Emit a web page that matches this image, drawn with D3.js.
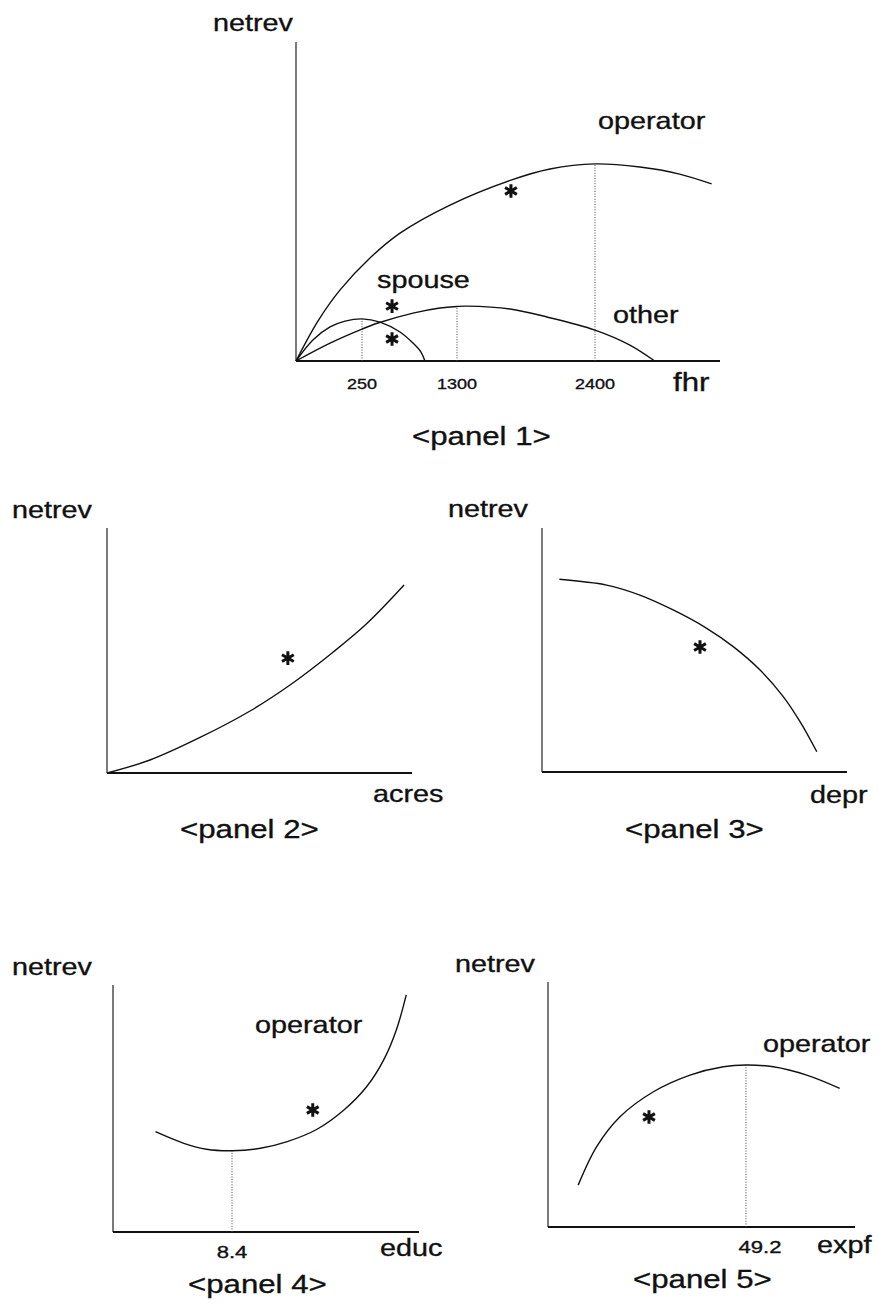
<!DOCTYPE html>
<html>
<head>
<meta charset="utf-8">
<script src="https://cdn.jsdelivr.net/npm/d3@7"></script>
<style>
  html, body { margin: 0; padding: 0; background: #fff; }
  svg { display: block; }
  text { font-family: "Liberation Sans", Arial, Helvetica, sans-serif; fill: #111; stroke: #111; stroke-width: 0.35px; }
</style>
</head>
<body>
<svg id="chart" width="879" height="1304"></svg>
<script>
// ---------- Panel 1: net revenue against farm hours (fhr) ----------
const fhrTicks = [250, 1300, 2400];
const fhrTickLabels = ["250", "1300", "2400"];
const operatorHours = [0, 83, 167, 338, 670, 1223, 1730, 2041, 2400, 2759, 3077, 3333];
const operatorRev   = [0, 12.5, 22.3, 32.3, 40.1, 48.9, 56.7, 60.2, 61.8, 60.8, 58.6, 55.5];
const otherHours    = [0, 129, 250, 427, 814, 1112, 1300, 1380, 1722, 2017, 2400, 2679, 2878];
const otherRev      = [0, 5.6, 10.0, 11.9, 15.0, 16.6, 17.1, 17.2, 16.3, 13.8, 9.7, 5.0, 0];
const spouseHours   = [0, 64, 129, 186, 250, 449, 670, 814, 902, 946];
const spouseRev     = [0, 6.6, 10.7, 12.5, 13.2, 12.2, 9.1, 5.6, 2.8, 0];
const p1StarHours   = [1730, 582, 582];
const p1StarRev     = [53.3, 17.2, 6.9];

// ---------- Panel 2: net revenue against acres ----------
const acresVals   = [0, 14.1, 30.5, 46.9, 60.0, 74.1, 85.2, 97.4];
const acresRev    = [0, 5.3, 14.5, 25.3, 35.9, 49.3, 61.0, 76.7];
const p2Star      = [59.3, 46.9];

// ---------- Panel 3: net revenue against depreciation ----------
const deprVals    = [5.7, 21.2, 32.1, 43.0, 54.0, 62.7, 71.5, 79.1, 84.6, 90.1];
const deprRev     = [79.0, 76.6, 72.5, 66.4, 58.9, 51.4, 41.8, 30.9, 20.6, 8.3];
const p3Star      = [51.8, 51.2];

// ---------- Panel 4: net revenue against education ----------
const educTicks   = [8.4];
const educVals    = [3.0, 5.0, 6.6, 8.4, 10.4, 12.3, 14.4, 16.3, 17.9, 19.1, 20.0, 20.7];
const educRev     = [40.6, 35.9, 33.5, 32.9, 33.9, 36.6, 41.6, 49.4, 58.8, 69.6, 81.8, 96.0];
const p4Star      = [14.1, 49.4];

// ---------- Panel 5: net revenue against farming experience ----------
const expfTicks   = [49.2];
const expfVals    = [7.5, 12.1, 17.9, 26.2, 35.3, 43.6, 49.2, 56.0, 64.3, 72.5];
const expfRev     = [17.1, 32.8, 45.0, 55.2, 62.0, 65.4, 66.1, 65.4, 62.0, 56.6];
const p5Star      = [25.1, 44.9];

const svg = d3.select("#chart");
svg.append("rect").attr("width", 879).attr("height", 1304).attr("fill", "#fff");

// Text drawn slightly wide, in the manner of the original typesetting
function label(x, y, str, size, anchor, sx) {
  return svg.append("text")
    .attr("transform", `translate(${x},${y}) scale(${sx || 1.2},1)`)
    .attr("text-anchor", anchor || "start")
    .style("font-size", size + "px")
    .text(str);
}

function axes(x, y) {
  const [x0, x1] = [x.range()[0], x.range()[x.range().length - 1]];
  const [y0, y1] = y.range();
  svg.append("line").attr("x1", x0).attr("x2", x0).attr("y1", y0).attr("y2", y1)
    .attr("stroke", "#222").attr("stroke-width", 1.2);
  svg.append("line").attr("x1", x0).attr("x2", x1).attr("y1", y0).attr("y2", y0)
    .attr("stroke", "#111").attr("stroke-width", 2);
}

function curve(x, y, xs, ys) {
  const pts = xs.map((v, i) => [x(v), y(ys[i])]);
  svg.append("path")
    .attr("d", d3.line().curve(d3.curveCatmullRom.alpha(0.5))(pts))
    .attr("fill", "none").attr("stroke", "#111").attr("stroke-width", 1.4);
}

function dropLine(x, y, xv, yv) {
  svg.append("line")
    .attr("x1", x(xv)).attr("x2", x(xv))
    .attr("y1", y(0)).attr("y2", y(yv))
    .attr("stroke", "#444").attr("stroke-width", 1)
    .attr("stroke-dasharray", "1,1.6");
}

const star = d3.symbol().type(d3.symbolAsterisk).size(130);
function stars(x, y, xs, ys) {
  xs.forEach((v, i) => {
    svg.append("path").attr("d", star())
      .attr("transform", `translate(${x(v)},${y(ys[i])})`)
      .attr("fill", "none").attr("stroke", "#111").attr("stroke-width", 3);
  });
}

// value of a series at one of its listed x values
const at = (xs, ys, v) => ys[xs.indexOf(v)];

// ----- Panel 1 -----
{
  // schematic hours axis: the marked hour values sit at their drawn places
  const x = d3.scaleLinear().domain([0, 250, 1300, 2400, 3400]).range([296, 362, 457, 595, 720]);
  const y = d3.scaleLinear().domain([0, 100]).range([361, 42]);
  axes(x, y);
  dropLine(x, y, fhrTicks[0], at(spouseHours, spouseRev, fhrTicks[0]));
  dropLine(x, y, fhrTicks[1], at(otherHours, otherRev, fhrTicks[1]));
  dropLine(x, y, fhrTicks[2], at(operatorHours, operatorRev, fhrTicks[2]));
  curve(x, y, operatorHours, operatorRev);
  curve(x, y, otherHours, otherRev);
  curve(x, y, spouseHours, spouseRev);
  stars(x, y, p1StarHours, p1StarRev);
  fhrTicks.forEach((t, i) => label(x(t), 389, fhrTickLabels[i], 15, "middle", 1.2));
  label(213, 31, "netrev", 24);
  label(598, 129, "operator", 24);
  label(377, 288, "spouse", 24);
  label(613, 323, "other", 24);
  label(673, 391, "fhr", 26);
  label(412, 445, "<panel 1>", 26);
}

// ----- Panel 2 -----
{
  const x = d3.scaleLinear().domain([0, 100]).range([107, 412]);
  const y = d3.scaleLinear().domain([0, 100]).range([773, 528]);
  axes(x, y);
  curve(x, y, acresVals, acresRev);
  stars(x, y, [p2Star[0]], [p2Star[1]]);
  label(12, 518, "netrev", 24);
  label(373, 802, "acres", 24);
  label(180, 838, "<panel 2>", 26);
}

// ----- Panel 3 -----
{
  const x = d3.scaleLinear().domain([0, 100]).range([542, 847]);
  const y = d3.scaleLinear().domain([0, 100]).range([772, 528]);
  axes(x, y);
  curve(x, y, deprVals, deprRev);
  stars(x, y, [p3Star[0]], [p3Star[1]]);
  label(448, 517, "netrev", 24);
  label(810, 803, "depr", 24);
  label(625, 838, "<panel 3>", 26);
}

// ----- Panel 4 -----
{
  const x = d3.scaleLinear().domain([0, 21.6]).range([113, 419]);
  const y = d3.scaleLinear().domain([0, 100]).range([1232, 985]);
  axes(x, y);
  dropLine(x, y, educTicks[0], at(educVals, educRev, educTicks[0]));
  curve(x, y, educVals, educRev);
  stars(x, y, [p4Star[0]], [p4Star[1]]);
  educTicks.forEach(t => label(x(t), 1258, String(t), 17, "middle", 1.3));
  label(12, 975, "netrev", 24);
  label(255, 1033, "operator", 24);
  label(380, 1256, "educ", 24);
  label(188, 1293, "<panel 4>", 26);
}

// ----- Panel 5 -----
{
  const x = d3.scaleLinear().domain([0, 76.3]).range([548, 855]);
  const y = d3.scaleLinear().domain([0, 100]).range([1227, 982]);
  axes(x, y);
  dropLine(x, y, expfTicks[0], at(expfVals, expfRev, expfTicks[0]));
  curve(x, y, expfVals, expfRev);
  stars(x, y, [p5Star[0]], [p5Star[1]]);
  expfTicks.forEach(t => label(x(t) + 14, 1253, String(t), 17, "middle", 1.3));
  label(455, 972, "netrev", 24);
  label(763, 1052, "operator", 24);
  label(817, 1253, "expf", 24);
  label(633, 1288, "<panel 5>", 26);
}
</script>
</body>
</html>
